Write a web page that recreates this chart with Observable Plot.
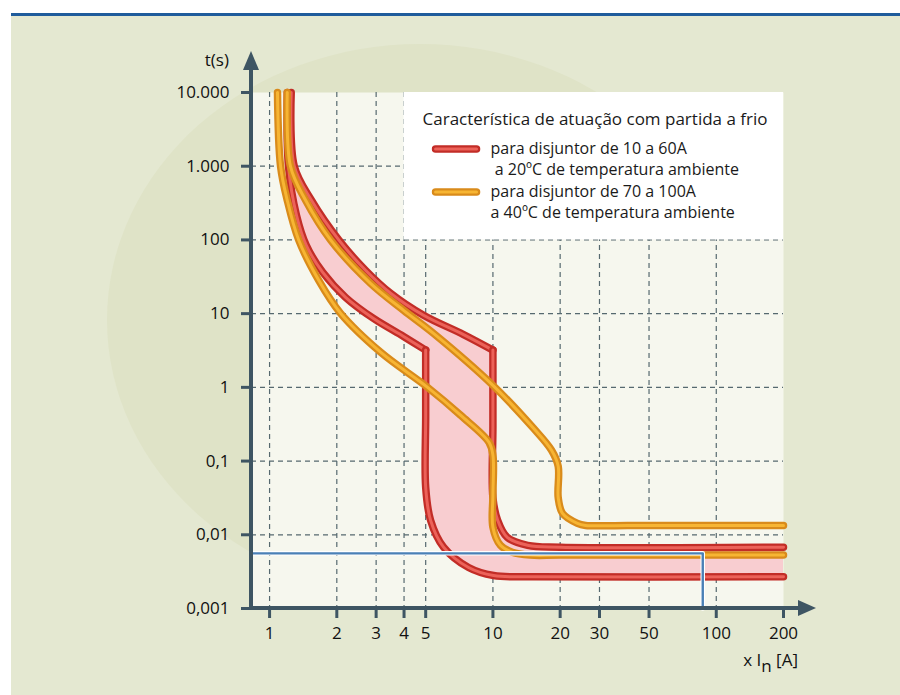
<!DOCTYPE html>
<html><head><meta charset="utf-8">
<script src="https://cdn.jsdelivr.net/npm/d3@7"></script>
<script src="https://cdn.jsdelivr.net/npm/@observablehq/plot@0.6"></script>
<style>
html,body{margin:0;padding:0;background:#fff;}
#chart svg{display:block}
</style></head><body><div id="chart"></div>
<script>
// ---- data ----
const xTicks = [1, 2, 3, 4, 5, 10, 20, 30, 50, 100, 200];
const xTickLabels = ["1", "2", "3", "4", "5", "10", "20", "30", "50", "100", "200"];
const xGrid = [1, 2, 3, 4, 5, 10, 20, 30, 50, 100];
const yTicks = [0.001, 0.01, 0.1, 1, 10, 100, 1000, 10000];
const yTickLabels = ["0,001", "0,01", "0,1", "1", "10", "100", "1.000", "10.000"];
const yGrid = [0.01, 0.1, 1, 10, 100, 1000];
const xMin = 0.83, xMax = 200, yMin = 0.001, yMax = 10000;

// [multiple of In, t (s)]
const red10a60Upper = [[1.25,10000],[1.29,1000],[1.54,345],[2.04,100],[2.69,38.7],[3.48,18.9],[4.89,9.5],[7.39,5.2],[10,3.2]];
const red10a60UpperTail = [[10,3.2],[10,0.3],[10,0.032],[10.5,0.0157],[11.6,0.0092],[14.3,0.0072],[20,0.0068],[200,0.0068]];
const red10a60Lower = [[1.2,10000],[1.215,1000],[1.32,216],[1.46,84.5],[1.73,36.3],[2.19,16.6],[2.92,8.6],[3.98,4.9],[5,3.2]];
const red10a60LowerTail = [[5,3.2],[5,0.4],[5,0.044],[5.26,0.0157],[6.01,0.0068],[7.78,0.0036],[10.07,0.0028],[15,0.0027],[200,0.0027]];
const orange70a100Left = [[1.085,10000],[1.12,1000],[1.2,345],[1.35,100],[1.66,28.3],[2.08,10.1],[3.14,3.0],[5.1,1.0],[7.16,0.42],[9.6,0.18],[10,0.12],[10,0.035],[10,0.0126],[10.8,0.0072],[12.2,0.0058],[14.7,0.0053],[20,0.0053],[200,0.0053]];
const orange70a100Right = [[1.2,10000],[1.24,1000],[1.45,345],[1.875,100],[2.83,25.8],[3.98,11.1],[5.42,5.4],[10,1.065],[15.2,0.278],[18.3,0.14],[19.6,0.085],[19.6,0.032],[20.5,0.0195],[23.9,0.0143],[26,0.0134],[40,0.0134],[200,0.0134]];
const bluePath = [[0.83,0.0056],[87,0.0056],[87,0.001]];
const legendBox = [{x1: 4, x2: 200, y1: 100, y2: 10000}];

const legendTitle = "Característica de atuação com partida a frio";
const legendItems = [
  {lines: ["para disjuntor de 10 a 60A", " a 20ºC de temperatura ambiente"], outer: "#c22d27", inner: "#ec6259"},
  {lines: ["para disjuntor de 70 a 100A", "a 40ºC de temperatura ambiente"], outer: "#d98b1b", inner: "#f7b533"}
];

const RED_OUT = "#c22d27", RED_IN = "#ec6259";
const OR_OUT = "#d98b1b", OR_IN = "#f7b533";
const AXIS = "#3e5563";

const pinkBand = [...red10a60Upper, ...red10a60UpperTail.slice(1),
  ...[...red10a60Lower, ...red10a60LowerTail.slice(1)].reverse()];

function tube(data, outer, inner) {
  const base = {x: d => d[0], y: d => d[1], curve: "catmull-rom", strokeLinecap: "round", strokeLinejoin: "round"};
  return [
    Plot.line(data, {...base, stroke: outer, strokeWidth: 7.5}),
    Plot.line(data, {...base, stroke: inner, strokeWidth: 3})
  ];
}

const plot = Plot.plot({
  width: 900, height: 695,
  marginLeft: 251, marginRight: 117, marginTop: 92, marginBottom: 87,
  style: {background: "transparent", fontFamily: "'Open Sans', sans-serif", color: "#1a1a1a"},
  x: {type: "log", domain: [xMin, xMax]},
  y: {type: "log", domain: [yMin, yMax]},
  marks: [
    Plot.frame({fill: "#f6f7ee", stroke: "none"}),
    Plot.gridX(xGrid, {stroke: "#56696f", strokeOpacity: 1, strokeWidth: 1.2, strokeDasharray: "5,4"}),
    Plot.gridY(yGrid, {stroke: "#56696f", strokeOpacity: 1, strokeWidth: 1.2, strokeDasharray: "5,4"}),
    Plot.rect(legendBox, {x1: "x1", x2: "x2", y1: "y1", y2: "y2", fill: "white"}),
    Plot.line(pinkBand, {x: d => d[0], y: d => d[1], fill: "#f8cdd0", stroke: "none", curve: "linear", clip: true}),
    ...tube(red10a60Upper, RED_OUT, RED_IN),
    ...tube(red10a60UpperTail, RED_OUT, RED_IN),
    ...tube(red10a60Lower, RED_OUT, RED_IN),
    ...tube(red10a60LowerTail, RED_OUT, RED_IN),
    ...tube(orange70a100Left, OR_OUT, OR_IN),
    ...tube(orange70a100Right, OR_OUT, OR_IN),
    Plot.line(bluePath, {x: d => d[0], y: d => d[1], stroke: "white", strokeWidth: 4.5}),
    Plot.line(bluePath, {x: d => d[0], y: d => d[1], stroke: "#4a80b6", strokeWidth: 2.4}),
    Plot.axisX({ticks: xTicks, tickFormat: () => "", tickSize: 10, stroke: AXIS, strokeWidth: 3, label: null}),
    Plot.text(xTicks, {x: d => d, y: yMin, text: (d, i) => xTickLabels[i], dy: 25, fontSize: 17, fill: "#111"}),
    Plot.axisY({ticks: yTicks, tickFormat: d => yTickLabels[yTicks.indexOf(d)], tickSize: 10, tickPadding: 12,
      fontSize: 17, stroke: AXIS, strokeWidth: 3, fill: "#111", label: null})
  ]
});

document.getElementById("chart").appendChild(plot);

const svg = d3.select(plot);
const sx = plot.scale("x"), sy = plot.scale("y");
const X0 = sx.apply(xMin), X1 = sx.apply(xMax), Y0 = sy.apply(yMin), Y1 = sy.apply(yMax);

// background
const bg = svg.insert("g", ":first-child");
bg.append("rect").attr("width", 900).attr("height", 695).attr("fill", "#fff");
bg.append("rect").attr("x", 11).attr("y", 16).attr("width", 889).attr("height", 679).attr("fill", "#e4e8d1");
bg.append("ellipse").attr("cx", 420).attr("cy", 320).attr("rx", 313).attr("ry", 276).attr("fill", "#dfe3c7");
bg.append("rect").attr("x", 11).attr("y", 13).attr("width", 889).attr("height", 3).attr("fill", "#1f5c9c");

// axis lines with arrows
const ax = svg.append("g").attr("fill", AXIS).attr("stroke", "none");
ax.append("rect").attr("x", X0 - 2).attr("y", Y1 - 24).attr("width", 4).attr("height", Y0 - Y1 + 26);
ax.append("path").attr("d", `M${X0 - 8},${Y1 - 22} L${X0 + 8},${Y1 - 22} L${X0},${Y1 - 41} Z`);
ax.append("rect").attr("x", X0 - 2).attr("y", Y0 - 2).attr("width", X1 - X0 + 19).attr("height", 4);
ax.append("path").attr("d", `M${X1 + 15},${Y0 - 8} L${X1 + 15},${Y0 + 8} L${X1 + 33},${Y0} Z`);

// axis titles
const tf = svg.append("g").attr("font-family", "'Open Sans', sans-serif").attr("fill", "#111");
tf.append("text").attr("x", X0 - 22).attr("y", Y1 - 26).attr("text-anchor", "end").attr("font-size", 17).text("t(s)");
const xl = tf.append("text").attr("x", X1 + 15).attr("y", Y0 + 58).attr("text-anchor", "end").attr("font-size", 17);
xl.append("tspan").text("x I");
xl.append("tspan").attr("dy", 6).text("n");
xl.append("tspan").attr("dy", -6).text(" [A]");

// legend
const bx = sx.apply(legendBox[0].x1), by = sy.apply(legendBox[0].y2);
const lg = svg.append("g").attr("font-family", "'Open Sans', sans-serif").attr("fill", "#1a1a1a").attr("text-anchor", "start");
lg.append("text").attr("x", bx + 19).attr("y", by + 33).attr("font-size", 17).text(legendTitle);
legendItems.forEach((it, i) => {
  const cy = by + 57 + i * 43;
  lg.append("line").attr("x1", bx + 32).attr("x2", bx + 73).attr("y1", cy).attr("y2", cy)
    .attr("stroke", it.outer).attr("stroke-width", 7.5).attr("stroke-linecap", "round");
  lg.append("line").attr("x1", bx + 32).attr("x2", bx + 73).attr("y1", cy).attr("y2", cy)
    .attr("stroke", it.inner).attr("stroke-width", 3).attr("stroke-linecap", "round");
  it.lines.forEach((t, j) => {
    lg.append("text").attr("x", bx + 87).attr("y", cy + 5 + j * 20.5).attr("font-size", 16)
      .attr("xml:space", "preserve").style("white-space", "pre").text(t);
  });
});
</script></body></html>
